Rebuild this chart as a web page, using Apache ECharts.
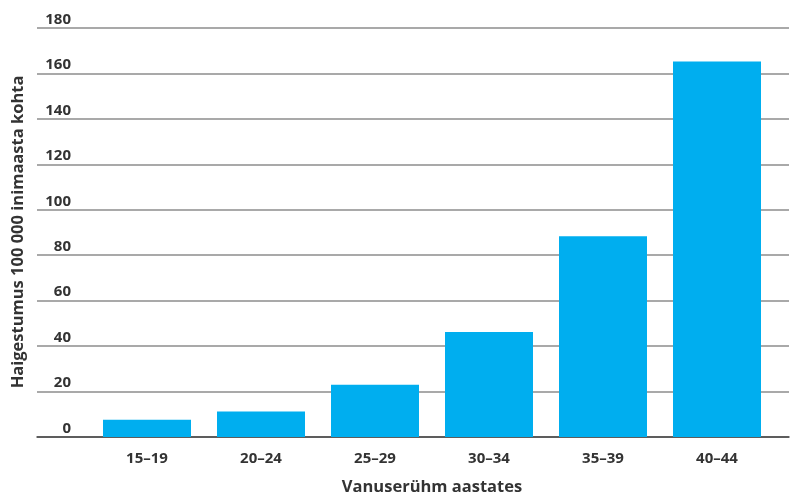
<!DOCTYPE html>
<html><head><meta charset="utf-8">
<script src="https://cdn.jsdelivr.net/npm/echarts@6/dist/echarts.min.js"></script>
<style>html,body{margin:0;padding:0;background:#fff}#c{width:797px;height:499px}</style>
</head><body><div id="c"></div>
<script>
const categories = ['15–19','20–24','25–29','30–34','35–39','40–44'];
const values = [7.6, 11.2, 23.0, 46.2, 88.4, 165.3];
const yTicks = {min:0, max:180, interval:20};
const xTitle = 'Vanuserühm aastates';
const yTitle = 'Haigestumus 100 000 inimaasta kohta';

const font = 'Open Sans';
const chart = echarts.init(document.getElementById('c'));
chart.setOption({
  animation:false,
  textStyle:{fontFamily:font},
  grid:[
    {left:90,right:23,top:28,bottom:62,outerBoundsMode:'none',containLabel:false},
    {left:37,right:8,top:28,bottom:62,outerBoundsMode:'none',containLabel:false}
  ],
  xAxis:[
    {type:'category',gridIndex:0,data:categories,
     axisLine:{show:false},axisTick:{show:false},
     axisLabel:{margin:14,fontSize:15,fontWeight:'bold',color:'#333',fontFamily:font},
     name:xTitle,nameLocation:'middle',nameGap:42,
     nameTextStyle:{fontSize:16.5,fontWeight:'bold',color:'#333',fontFamily:font}},
    {type:'category',gridIndex:1,data:['a'],
     axisLine:{show:true,lineStyle:{color:'#444',width:1.5}},
     axisTick:{show:false},axisLabel:{show:false},z:0}
  ],
  yAxis:[
    {type:'value',gridIndex:0,min:yTicks.min,max:yTicks.max,interval:yTicks.interval,show:false},
    {type:'value',gridIndex:1,min:yTicks.min,max:yTicks.max,interval:yTicks.interval,
     axisLine:{show:false},axisTick:{show:false},
     splitLine:{show:true,lineStyle:{color:'#8c8c8c',width:1.5}},
     axisLabel:{inside:true,margin:34,align:'right',verticalAlign:'bottom',
       padding:[0,0,1,0],fontSize:15,fontWeight:'bold',color:'#333',fontFamily:font}}
  ],
  graphic:[{type:'text',rotation:Math.PI/2,
    x:18,y:232,
    style:{text:yTitle,font:'bold 16.5px '+font,fill:'#333',textAlign:'center',textVerticalAlign:'middle'}}],
  series:[{type:'bar',xAxisIndex:0,yAxisIndex:0,data:values,barWidth:88,
    itemStyle:{color:'#00AEEF'},z:5}]
});
</script></body></html>
